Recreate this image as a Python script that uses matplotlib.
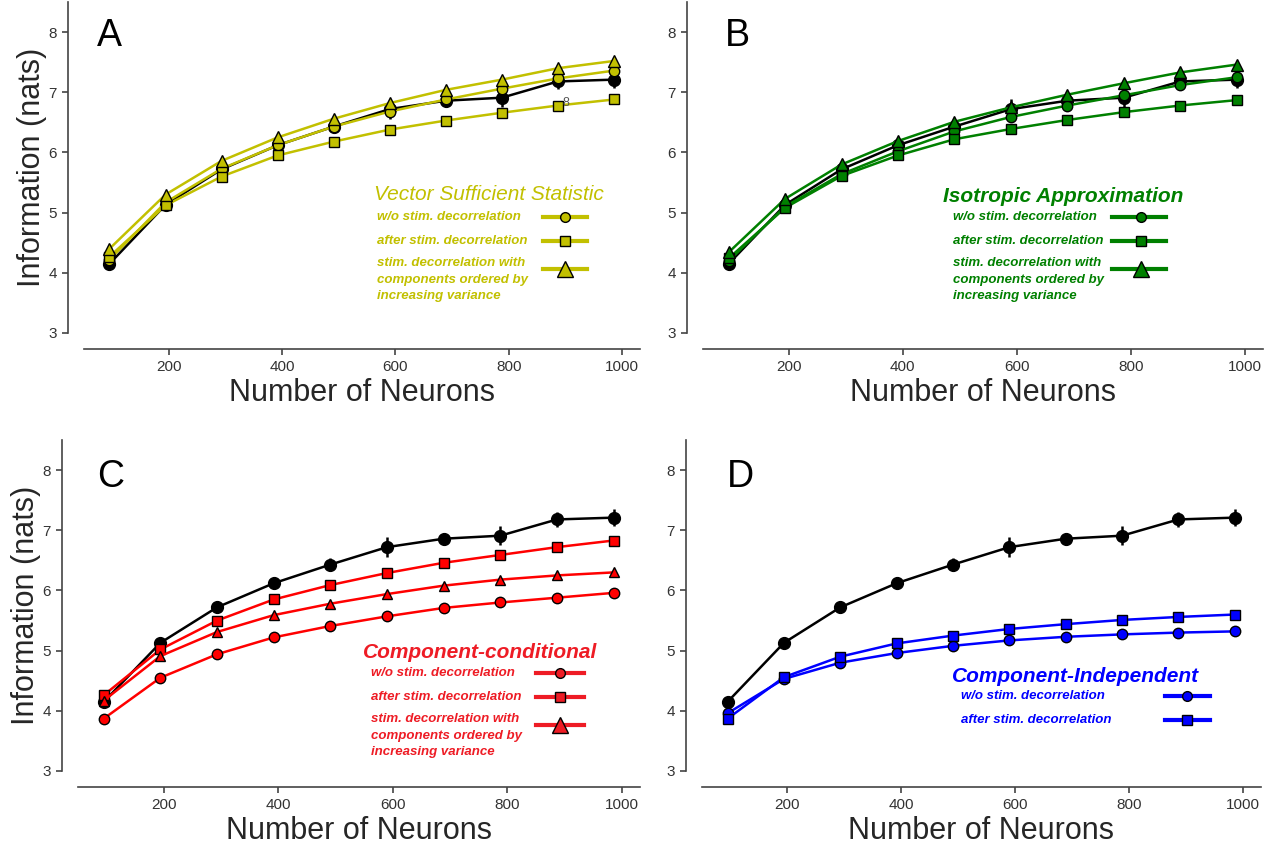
import matplotlib
matplotlib.use("Agg")
import matplotlib.pyplot as plt

plt.rcParams['font.family'] = ['Liberation Sans', 'DejaVu Sans']

# Number of neurons used for each estimate
neurons = [95, 194, 293, 392, 491, 590, 689, 788, 887, 986]

# Reference information (black curve, same in every panel) with error bars
ref_info = [4.15, 5.13, 5.72, 6.12, 6.43, 6.72, 6.86, 6.91, 7.18, 7.21]
ref_err = [0.03, 0.04, 0.06, 0.04, 0.11, 0.17, 0.08, 0.16, 0.12, 0.14]

# A: vector sufficient statistic
vss_plain = [4.22, 5.17, 5.73, 6.12, 6.43, 6.68, 6.88, 7.06, 7.23, 7.36]
vss_decor = [4.27, 5.12, 5.60, 5.95, 6.18, 6.38, 6.53, 6.66, 6.78, 6.88]
vss_ordered = [4.40, 5.30, 5.86, 6.25, 6.56, 6.82, 7.04, 7.21, 7.40, 7.52]

# B: isotropic approximation
iso_plain = [4.20, 5.10, 5.64, 6.02, 6.35, 6.59, 6.78, 6.95, 7.12, 7.25]
iso_decor = [4.24, 5.08, 5.61, 5.95, 6.22, 6.39, 6.54, 6.67, 6.78, 6.87]
iso_ordered = [4.34, 5.23, 5.80, 6.19, 6.51, 6.75, 6.96, 7.15, 7.33, 7.46]

# C: component-conditional
cc_plain = [3.87, 4.55, 4.94, 5.22, 5.41, 5.57, 5.71, 5.80, 5.88, 5.96]
cc_decor = [4.26, 5.02, 5.50, 5.85, 6.09, 6.29, 6.46, 6.59, 6.72, 6.83]
cc_ordered = [4.17, 4.91, 5.31, 5.59, 5.78, 5.94, 6.08, 6.18, 6.25, 6.30]

# D: component-independent
ci_plain = [3.96, 4.53, 4.80, 4.96, 5.08, 5.17, 5.23, 5.27, 5.30, 5.32]
ci_decor = [3.87, 4.56, 4.90, 5.12, 5.25, 5.36, 5.44, 5.51, 5.56, 5.60]

lbl_plain = 'w/o stim. decorrelation'
lbl_decor = 'after stim. decorrelation'
lbl_ordered = ['stim. decorrelation with', 'components ordered by', 'increasing variance']

yellow = '#c2c000'
green = '#008000'
red = '#ff0000'
red_txt = '#ee1c25'
blue = '#0000ff'

W, H = 1273, 848
fig = plt.figure(figsize=(W / 100, H / 100), dpi=100)


def make_axes(left, right, top, bottom):
    ax = fig.add_axes([left / W, 1 - bottom / H, (right - left) / W, (bottom - top) / H])
    ax.set_xlim(50, 1032)
    ax.set_ylim(3, 8.5)
    ax.set_xticks([200, 400, 600, 800, 1000])
    ax.set_yticks([3, 4, 5, 6, 7, 8])
    for side in ['top', 'right']:
        ax.spines[side].set_visible(False)
    for side in ['left', 'bottom']:
        ax.spines[side].set_position(('outward', 11.5))
        ax.spines[side].set_color('#444444')
        ax.spines[side].set_linewidth(1.2)
    ax.tick_params(length=4, width=1.2, color='#444444', labelsize=11,
                   labelcolor='#333333', pad=4)
    ax.set_xlabel('Number of Neurons', fontsize=22, color='#262626', labelpad=3)
    return ax


def draw_ref(ax):
    ax.errorbar(neurons, ref_info, yerr=ref_err, color='k', lw=1.8, marker='o',
                ms=8.5, mfc='k', mec='k', elinewidth=1.8, capsize=0, zorder=2)


def draw_series(ax, vals, marker, color, ms):
    ax.plot(neurons, vals, color=color, lw=1.8, marker=marker, ms=ms,
            mfc=color, mec='k', mew=1.0, zorder=3)


def draw_key(ax, title, bold_title, tcolor, lcolor, mcolor, title_xy, text_x,
             entries, x0, x1, xm):
    ax.text(title_xy[0], title_xy[1], title, color=tcolor, fontsize=15,
            style='italic', weight='bold' if bold_title else 'normal',
            ha='center', va='center')
    for lines, ty, marker, ms, hy in entries:
        if isinstance(lines, str):
            lines = [lines]
        for i, line in enumerate(lines):
            ax.text(text_x, ty - i * 0.275, line, color=tcolor, fontsize=9.5,
                    style='italic', weight='bold', ha='left', va='center')
        ax.plot([x0, x1], [hy, hy], color=lcolor, lw=3, clip_on=False, zorder=4)
        ax.plot([xm], [hy], marker=marker, ms=ms, mfc=mcolor, mec='k', mew=1.0,
                ls='none', clip_on=False, zorder=5)


# Panel A
axA = make_axes(84, 640, 2, 333)
axA.set_ylabel('Information (nats)', fontsize=22, color='#262626', labelpad=1)
draw_ref(axA)
draw_series(axA, vss_plain, 'o', yellow, 7.5)
draw_series(axA, vss_decor, 's', yellow, 7.5)
draw_series(axA, vss_ordered, '^', yellow, 8)
axA.text(95, 7.93, 'A', fontsize=27, ha='center', va='center')
axA.text(902, 6.82, '8', fontsize=9, color='#555555', ha='center', va='center',
         zorder=6)
draw_key(axA, 'Vector Sufficient Statistic', False, yellow, yellow, yellow,
         (766, 5.3), 567,
         [(lbl_plain, 4.93, 'o', 7, 4.93),
          (lbl_decor, 4.53, 's', 7, 4.53),
          (lbl_ordered, 4.16, '^', 11, 4.06)],
         860, 939, 899)

# Panel B
axB = make_axes(703, 1263, 2, 333)
draw_ref(axB)
draw_series(axB, iso_plain, 'o', green, 7.5)
draw_series(axB, iso_decor, 's', green, 7.5)
draw_series(axB, iso_ordered, '^', green, 8)
axB.text(110, 7.93, 'B', fontsize=27, ha='center', va='center')
draw_key(axB, 'Isotropic Approximation', True, green, green, green,
         (681, 5.27), 488,
         [(lbl_plain, 4.93, 'o', 7, 4.93),
          (lbl_decor, 4.53, 's', 7, 4.53),
          (lbl_ordered, 4.16, '^', 11, 4.06)],
         768, 862, 818)

# Panel C
axC = make_axes(78, 640, 440, 771)
axC.set_ylabel('Information (nats)', fontsize=22, color='#262626', labelpad=1)
draw_ref(axC)
draw_series(axC, cc_plain, 'o', red, 7.5)
draw_series(axC, cc_decor, 's', red, 7.5)
draw_series(axC, cc_ordered, '^', red, 7.5)
axC.text(107, 7.88, 'C', fontsize=27, ha='center', va='center')
draw_key(axC, 'Component-conditional', True, red_txt, red_txt, red_txt,
         (752, 4.97), 562,
         [(lbl_plain, 4.63, 'o', 7, 4.63),
          (lbl_decor, 4.23, 's', 7, 4.23),
          (lbl_ordered, 3.86, '^', 11, 3.76)],
         851, 934, 892)

# Panel D
axD = make_axes(702, 1261, 440, 771)
draw_ref(axD)
draw_series(axD, ci_plain, 'o', blue, 7.5)
draw_series(axD, ci_decor, 's', blue, 7.5)
axD.text(117, 7.88, 'D', fontsize=27, ha='center', va='center')
draw_key(axD, 'Component-Independent', True, blue, blue, blue,
         (707, 4.57), 505,
         [(lbl_plain, 4.25, 'o', 7, 4.25),
          (lbl_decor, 3.85, 's', 7, 3.85)],
         863, 942, 902)

fig.savefig('out.png', dpi=100)
